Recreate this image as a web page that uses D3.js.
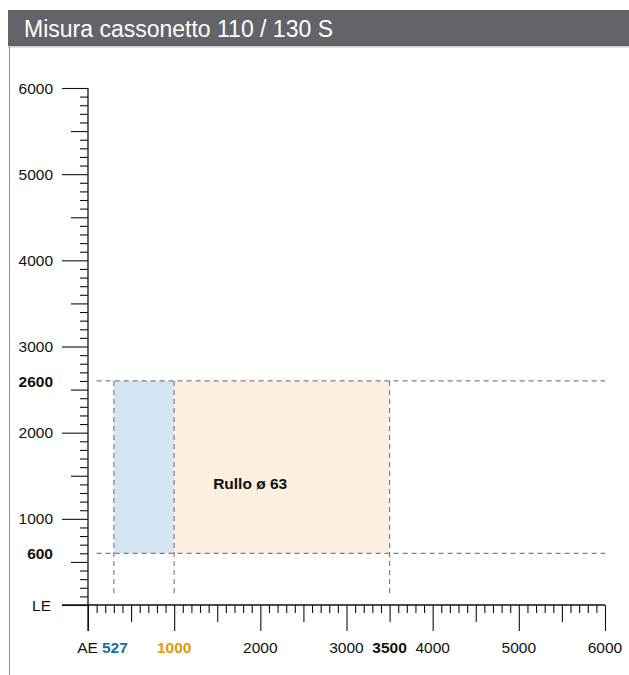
<!DOCTYPE html>
<html><head><meta charset="utf-8">
<script src="https://cdn.jsdelivr.net/npm/d3@7"></script>
<style>
html,body{margin:0;padding:0;background:#fff;}
svg{display:block;font-family:"Liberation Sans",Arial,Helvetica,sans-serif;}
</style></head>
<body>
<svg id="c" width="629" height="675"></svg>
<script>
const title = "Misura cassonetto 110 / 130 S";
const axisMax = 6000;
const tickStep = 100;
const yLabels = [
  {v:0, text:"LE", bold:false},
  {v:600, text:"600", bold:true},
  {v:1000, text:"1000", bold:false},
  {v:2000, text:"2000", bold:false},
  {v:2600, text:"2600", bold:true},
  {v:3000, text:"3000", bold:false},
  {v:4000, text:"4000", bold:false},
  {v:5000, text:"5000", bold:false},
  {v:6000, text:"6000", bold:false}
];
const xLabels = [
  {v:300, text:"527", bold:true, color:"#1b6e93"},
  {v:1000, text:"1000", bold:true, color:"#e8940c"},
  {v:2000, text:"2000", bold:false, color:"#111"},
  {v:3000, text:"3000", bold:false, color:"#111"},
  {v:3500, text:"3500", bold:true, color:"#111"},
  {v:4000, text:"4000", bold:false, color:"#111"},
  {v:5000, text:"5000", bold:false, color:"#111"},
  {v:6000, text:"6000", bold:false, color:"#111"}
];
const xPrefix = "AE";
const zones = [
  {x0:300, x1:1000, y0:600, y1:2600, fill:"#d4e4f0"},
  {x0:1000, x1:3500, y0:600, y1:2600, fill:"#fcefdf"}
];
const zoneLabel = {x:1000, y:1400, text:"Rullo ø 63"};
const hGuides = [600, 2600];
const vGuides = [300, 1000, 3500];
const guideStart = 100;

const svg = d3.select("#c");
const x = d3.scaleLinear().domain([0, axisMax]).range([88, 605]);
const y = d3.scaleLinear().domain([0, axisMax]).range([605, 88]);

// header
svg.append("rect").attr("x",8).attr("y",10).attr("width",621).attr("height",36).attr("fill","#636469");
svg.append("rect").attr("x",8).attr("y",46).attr("width",621).attr("height",1.5).attr("fill","#c9c9cc");
svg.append("text").attr("x",24).attr("y",37).attr("fill","#fff").attr("font-size",23).text(title);
svg.append("line").attr("x1",9.5).attr("x2",9.5).attr("y1",47).attr("y2",675).attr("stroke","#8c8c8c").attr("stroke-width",1);

// zones
svg.selectAll("rect.zone").data(zones).enter().append("rect").attr("class","zone")
  .attr("x",d=>x(d.x0)).attr("y",d=>y(d.y1))
  .attr("width",d=>x(d.x1)-x(d.x0)).attr("height",d=>y(d.y0)-y(d.y1))
  .attr("fill",d=>d.fill);

// guides
const dash = "5,4";
svg.selectAll("line.hg").data(hGuides).enter().append("line").attr("class","hg")
  .attr("x1",x(guideStart)).attr("x2",x(axisMax)).attr("y1",d=>y(d)).attr("y2",d=>y(d))
  .attr("stroke","#808080").attr("stroke-width",1.2).attr("stroke-dasharray",dash);
svg.selectAll("line.vg").data(vGuides).enter().append("line").attr("class","vg")
  .attr("x1",d=>x(d)).attr("x2",d=>x(d)).attr("y1",y(2600)).attr("y2",y(guideStart))
  .attr("stroke","#808080").attr("stroke-width",1.2).attr("stroke-dasharray",dash);

svg.append("text").attr("x",x(zoneLabel.x)+39).attr("y",y(zoneLabel.y)+5)
  .attr("font-size",15.5).attr("font-weight","bold").attr("fill","#111").text(zoneLabel.text);

// axes ticks
const all = d3.range(0, axisMax + 1, tickStep);
const major = all.filter(v => v % 1000 === 0);
const medium = all.filter(v => v % 500 === 0 && v % 1000 !== 0);
const minor = all.filter(v => v % 500 !== 0);
function styleAxis(g){
  g.select(".domain").remove();
  g.selectAll(".tick line").attr("stroke","#111").attr("stroke-width",1.1);
  g.selectAll(".tick text").remove();
}
[[minor,8],[medium,17],[major,26]].forEach(([vals,len])=>{
  svg.append("g").attr("transform",`translate(${x(0)},0)`)
    .call(d3.axisLeft(y).tickValues(vals).tickSize(len).tickFormat("")).call(styleAxis);
  svg.append("g").attr("transform",`translate(0,${y(0)})`)
    .call(d3.axisBottom(x).tickValues(vals).tickSize(len).tickFormat("")).call(styleAxis);
});
svg.append("line").attr("x1",x(0)).attr("x2",x(0)).attr("y1",y(axisMax)).attr("y2",y(0)+26).attr("stroke","#111").attr("stroke-width",1.3);
svg.append("line").attr("x1",x(0)-26).attr("x2",x(axisMax)).attr("y1",y(0)).attr("y2",y(0)).attr("stroke","#111").attr("stroke-width",1.3);

// y labels
svg.selectAll("text.yl").data(yLabels).enter().append("text").attr("class","yl")
  .attr("x",d=> d.v===0 ? 51 : 53).attr("y",d=>y(d.v)).attr("dy","0.36em")
  .attr("text-anchor","end").attr("font-size",15.5).attr("fill","#111")
  .attr("font-weight",d=>d.bold?"bold":"normal").text(d=>d.text);

// x labels
svg.selectAll("text.xl").data(xLabels).enter().append("text").attr("class","xl")
  .attr("x",d=>x(d.v)+(d.v===300?1:0)).attr("y",653)
  .attr("text-anchor","middle").attr("font-size",15.5).attr("fill",d=>d.color)
  .attr("font-weight",d=>d.bold?"bold":"normal").text(d=>d.text);
svg.append("text").attr("x",x(300)-16).attr("y",653).attr("text-anchor","end")
  .attr("font-size",15.5).attr("fill","#111").text(xPrefix);
</script>
</body></html>
